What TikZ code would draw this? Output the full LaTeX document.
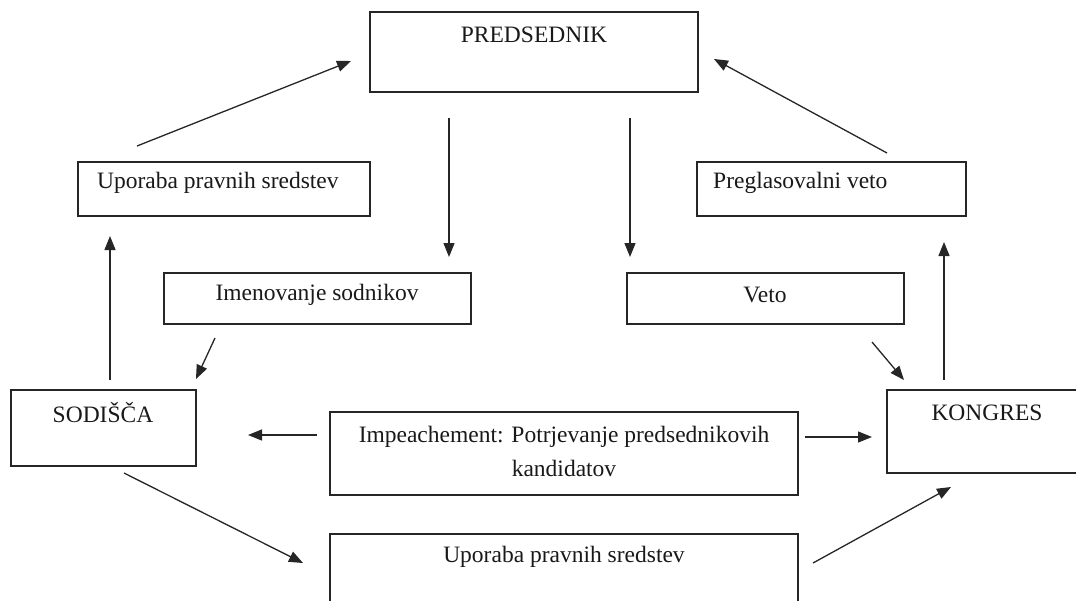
\documentclass[tikz,border=0pt]{standalone}
\usepackage{fontspec}
\setmainfont{Liberation Serif}
\usetikzlibrary{arrows.meta}
\begin{document}
\begin{tikzpicture}[x=1pt,y=-1pt,
  box/.style={draw=black!85, line width=1.5pt, inner sep=0pt, fill=none},
  lbl/.style={inner sep=0pt, font=\fontsize{23.5}{31}\selectfont, text=black!90},
  conn/.style={draw=black!85, line width=1.3pt, -{Triangle[length=14pt,width=11pt]}}]
\useasboundingbox (0,0) rectangle (1076,600);
\clip (0,0) rectangle (1076,600);
% boxes
\node[box, minimum width=328pt, minimum height=80pt] (pred) at (534,52) {};
\node[box, minimum width=292pt, minimum height=54pt] (upl) at (224,189) {};
\node[box, minimum width=269pt, minimum height=54pt] (preg) at (831.5,189) {};
\node[box, minimum width=307pt, minimum height=51pt] (imen) at (317.5,298.5) {};
\node[box, minimum width=277pt, minimum height=51pt] (veto) at (765.5,298.5) {};
\node[box, minimum width=185pt, minimum height=76pt] (sod) at (103.5,428) {};
\node[box, minimum width=200pt, minimum height=83pt] (kong) at (987,431.5) {};
\node[box, minimum width=468pt, minimum height=83pt] (imp) at (564,453.5) {};
\node[box, minimum width=468pt, minimum height=86pt] (upb) at (564,577) {};
% texts
\node[lbl] (predt) at (534,35) {PREDSEDNIK};
\node[lbl, anchor=west] (uplt) at (97,183) {Uporaba pravnih sredstev};
\node[lbl, anchor=west] (pregt) at (713,183) {Preglasovalni veto};
\node[lbl] (iment) at (317,295) {Imenovanje sodnikov};
\node[lbl] (vetot) at (765,295) {Veto};
\node[lbl] (sodt) at (103,413) {SODIŠČA};
\node[lbl] (kongt) at (987,413) {KONGRES};
\node[lbl] (impt1) at (564,437) {Impeachement: Potrjevanje predsednikovih};
\node[lbl] (impt2) at (564,468) {kandidatov};
\node[lbl] (upbt) at (564,557) {Uporaba pravnih sredstev};
% connector end points
\coordinate (a1s) at (137,146);  \coordinate (a1e) at (351,61);
\coordinate (a2s) at (887,153);  \coordinate (a2e) at (714,59);
\coordinate (a3s) at (449,118);  \coordinate (a3e) at (449,257);
\coordinate (a4s) at (630,118);  \coordinate (a4e) at (630,257);
\coordinate (a5s) at (215,338);  \coordinate (a5e) at (196,379);
\coordinate (a6s) at (872,342);  \coordinate (a6e) at (904,380);
\coordinate (a7s) at (110,380);  \coordinate (a7e) at (110,236);
\coordinate (a8s) at (944,380);  \coordinate (a8e) at (944,242);
\coordinate (a9s) at (317,435);  \coordinate (a9e) at (248,435);
\coordinate (a10s) at (805,437); \coordinate (a10e) at (872,437);
\coordinate (a11s) at (124,473); \coordinate (a11e) at (303,563);
\coordinate (a12s) at (813,563); \coordinate (a12e) at (951,487);
% connectors
\draw[conn] (a1s) -- (a1e);
\draw[conn] (a2s) -- (a2e);
\draw[conn] (a3s) -- (a3e);
\draw[conn] (a4s) -- (a4e);
\draw[conn] (a5s) -- (a5e);
\draw[conn] (a6s) -- (a6e);
\draw[conn] (a7s) -- (a7e);
\draw[conn] (a8s) -- (a8e);
\draw[conn] (a9s) -- (a9e);
\draw[conn] (a10s) -- (a10e);
\draw[conn] (a11s) -- (a11e);
\draw[conn] (a12s) -- (a12e);
\end{tikzpicture}
\end{document}
